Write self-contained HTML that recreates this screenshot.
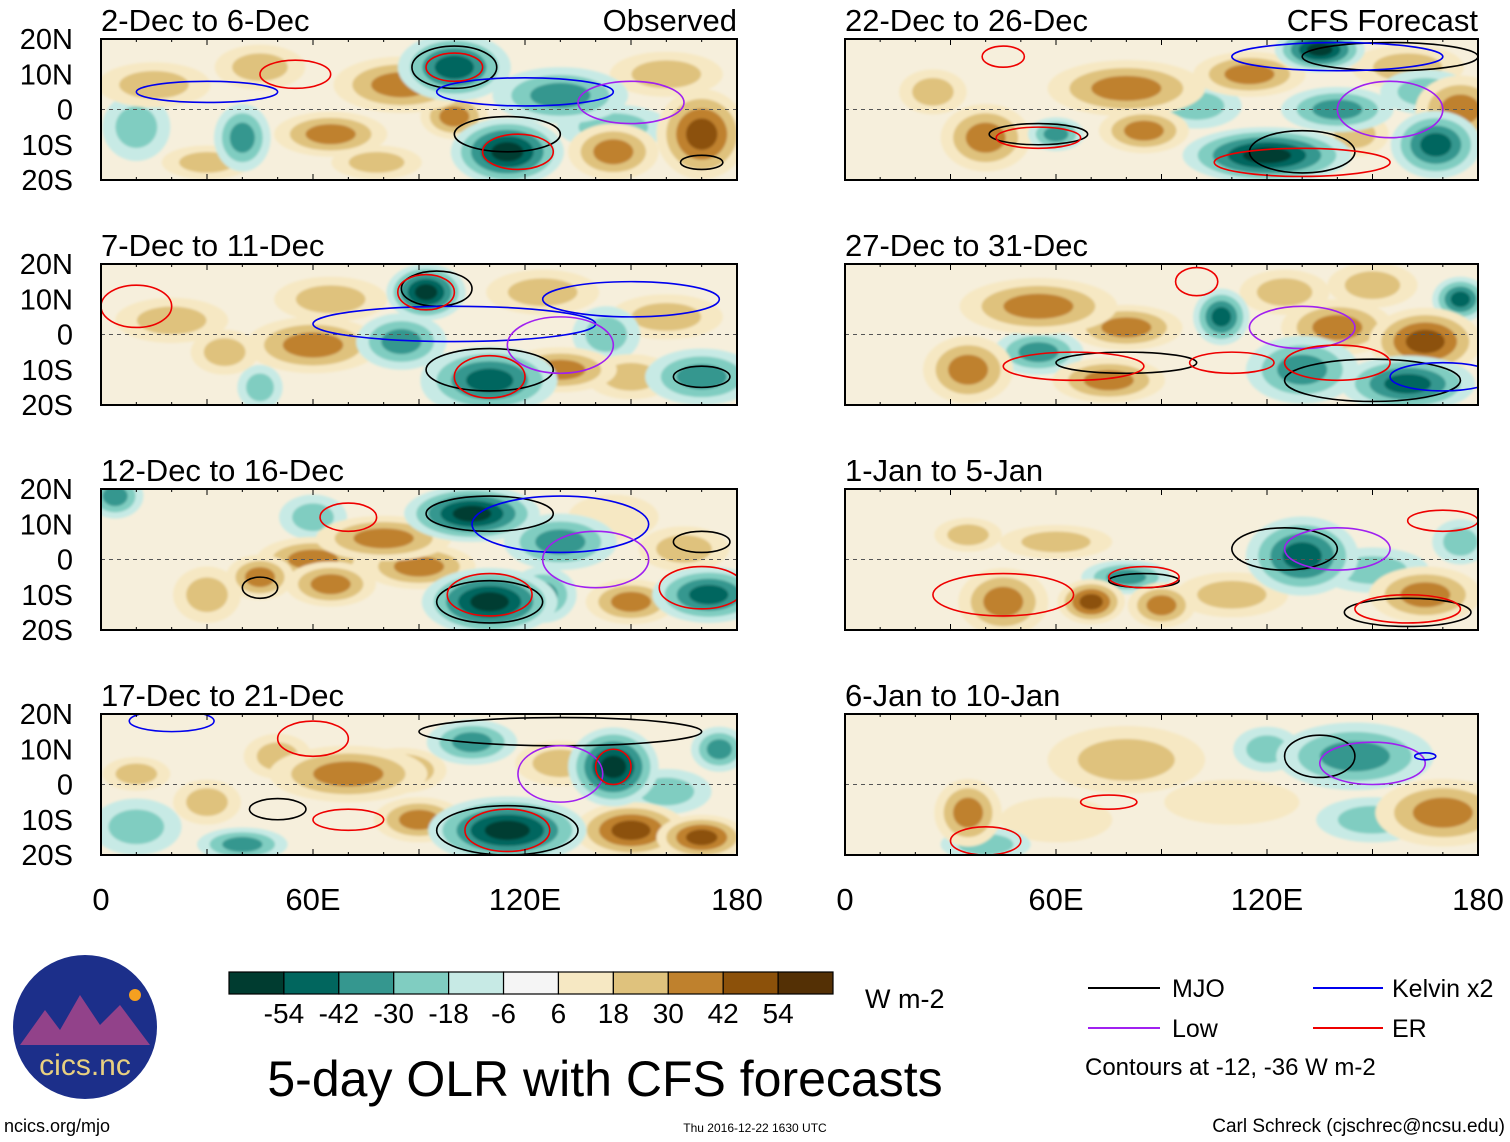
<!DOCTYPE html>
<html><head><meta charset="utf-8"><style>
body{margin:0;background:#fff;}
svg{display:block;font-family:"Liberation Sans",sans-serif;}
</style></head><body>
<svg id="fig" width="1510" height="1142" viewBox="0 0 1510 1142" xmlns="http://www.w3.org/2000/svg">
<defs><filter id="bl" x="-20%" y="-20%" width="140%" height="140%"><feGaussianBlur stdDeviation="1.4"/></filter></defs>
<g id="panels"></g>
<g id="colorbar"></g>
<text x="865" y="1008" font-size="27">W m-2</text>
<text x="605" y="1096" font-size="50" text-anchor="middle">5-day OLR with CFS forecasts</text>
<g>
<line x1="1088" y1="988" x2="1160" y2="988" stroke="#000" stroke-width="2"/><text x="1172" y="997" font-size="25">MJO</text>
<line x1="1313" y1="988" x2="1383" y2="988" stroke="#0000ee" stroke-width="2"/><text x="1392" y="997" font-size="25">Kelvin x2</text>
<line x1="1088" y1="1028" x2="1160" y2="1028" stroke="#a020f0" stroke-width="2"/><text x="1172" y="1037" font-size="25">Low</text>
<line x1="1313" y1="1028" x2="1383" y2="1028" stroke="#ee0000" stroke-width="2"/><text x="1392" y="1037" font-size="25">ER</text>
<text x="1085" y="1075" font-size="24">Contours at -12, -36 W m-2</text>
</g>
<g>
<circle cx="85" cy="1027" r="72" fill="#1c2f8a"/>
<path d="M20,1045 L45,1010 L60,1030 L80,995 L100,1025 L120,1005 L150,1045 Z" fill="#c44a8a" opacity="0.7"/>
<circle cx="135" cy="995" r="6" fill="#f5a020"/>
<text x="85" y="1075" font-size="30" fill="#e8d080" text-anchor="middle">cics.nc</text>
</g>
<text x="4" y="1132" font-size="18">ncics.org/mjo</text>
<text x="755" y="1132" font-size="12" text-anchor="middle">Thu 2016-12-22 1630 UTC</text>
<text x="1505" y="1132" font-size="19" text-anchor="end">Carl Schreck (cjschrec@ncsu.edu)</text>
</svg>
<script>
const NS="http://www.w3.org/2000/svg";
const cbLabels=["-54","-42","-30","-18","-6","6","18","30","42","54"];
const cbColors=["#003c30","#01665e","#35978f","#80cdc1","#c7eae5","#f5f5f5","#f6e8c3","#dfc27d","#bf812d","#8c510a","#543005"];
const latTicks=["20N","10N","0","10S","20S"];
const lonTicks=["0","60E","120E","180"];
const titles=["2-Dec to 6-Dec","7-Dec to 11-Dec","12-Dec to 16-Dec","17-Dec to 21-Dec","22-Dec to 26-Dec","27-Dec to 31-Dec","1-Jan to 5-Jan","6-Jan to 10-Jan"];
// blobs: [lon, lat, rxDeg, ryDeg, OLR anomaly]
const blobs0=[[100,12,10,6,-50],[115,-12,10,6,-55],[130,4,12,5,-30],[10,-5,6,6,-18],[40,-8,5,6,-30],[145,-5,10,4,-20],[65,-7,10,4,40],[85,7,12,5,35],[100,-2,6,4,30],[170,-7,8,8,45],[145,-12,8,5,35],[45,12,8,4,25],[15,7,10,4,20],[30,-15,8,3,25],[160,10,10,4,20],[78,-15,8,3,25]];
const blobs1=[[92,12,7,5,-60],[85,-2,8,5,-40],[110,-13,12,6,-50],[100,-13,6,5,-40],[170,-12,10,5,-35],[143,0,6,5,-25],[45,-15,4,4,-25],[20,4,10,4,20],[60,-3,12,5,30],[65,10,10,4,25],[130,-10,10,4,30],[150,-12,8,4,25],[125,12,10,4,20],[160,5,10,4,20],[35,-5,6,4,25]];
const blobs2=[[105,13,12,5,-55],[130,5,10,5,-40],[110,-12,12,6,-55],[172,-10,10,5,-45],[4,18,5,4,-40],[60,12,6,4,-18],[125,-10,6,5,-40],[80,6,12,4,40],[60,0,10,4,30],[90,-2,10,4,30],[65,-7,8,4,35],[45,-5,6,4,30],[30,-10,6,5,25],[150,-12,8,4,30],[165,3,8,4,20],[145,12,8,4,15]];
const blobs3=[[115,-13,14,6,-60],[145,5,8,7,-55],[105,12,8,4,-40],[175,10,5,4,-30],[160,-2,8,4,-25],[10,-12,8,5,-25],[40,-17,8,3,-30],[70,3,14,5,40],[85,4,8,4,30],[50,8,6,4,25],[150,-13,10,5,45],[170,-15,8,4,45],[30,-5,6,4,25],[90,-10,8,4,30],[130,6,8,4,20],[10,3,6,3,25]];
const blobs4=[[135,17,8,4,-55],[100,1,8,4,-25],[120,-13,15,5,-55],[168,-10,8,6,-50],[60,-7,5,3,-40],[140,0,10,4,-30],[165,5,8,4,-25],[80,6,14,5,35],[115,10,10,4,30],[40,-8,8,6,35],[85,-6,8,4,35],[175,0,8,6,40],[160,12,10,4,20],[145,-7,6,4,25],[25,5,6,4,20]];
const blobs5=[[107,5,5,5,-45],[130,-10,10,6,-40],[160,-14,12,5,-50],[175,10,5,4,-45],[55,-5,8,4,-35],[55,8,14,5,35],[80,2,10,4,30],[35,-10,8,6,40],[75,-13,10,4,35],[140,2,10,5,35],[165,-2,10,6,45],[125,12,8,4,25],[150,14,8,4,20]];
const blobs6=[[130,1,10,7,-50],[80,-5,8,3,-40],[150,-3,10,4,-25],[175,5,5,4,-20],[70,-12,6,4,45],[90,-13,6,4,40],[45,-12,8,6,30],[110,-10,10,4,25],[165,-10,10,5,35],[60,5,10,3,20],[35,7,6,3,20]];
const blobs7=[[145,8,14,6,-35],[120,10,6,4,-20],[40,-17,8,3,-25],[150,-10,10,4,-18],[80,7,14,6,20],[170,-8,12,6,35],[35,-8,6,6,30],[110,-5,12,4,15],[60,-10,10,4,15]];
// contours: [type, lon, lat, rxDeg, ryDeg]
const cont0=[["m",100,12,12,6],["m",115,-7,15,5],["m",170,-15,6,2],["k",30,5,20,3],["k",120,5,25,4],["l",150,2,15,6],["e",100,12,8,4],["e",118,-12,10,5],["e",55,10,10,4]];
const cont1=[["m",95,13,10,5],["m",110,-10,18,6],["m",170,-12,8,3],["k",100,3,40,5],["k",150,10,25,5],["l",130,-3,15,8],["e",92,12,8,5],["e",110,-12,10,6],["e",10,8,10,6]];
const cont2=[["m",110,13,18,5],["m",110,-12,15,6],["m",170,5,8,3],["k",130,10,25,8],["l",140,0,15,8],["e",70,12,8,4],["e",110,-10,12,6],["e",170,-8,12,6],["m",45,-8,5,3]];
const cont3=[["m",130,15,40,4],["m",115,-13,20,7],["m",50,-7,8,3],["k",20,18,12,3],["l",130,3,12,8],["e",60,13,10,5],["e",115,-13,12,6],["e",70,-10,10,3],["e",145,5,5,5]];
const cont4=[["m",155,15,25,4],["m",130,-12,15,6],["m",55,-7,14,3],["k",140,15,30,4],["l",155,0,15,8],["e",55,-8,12,3],["e",130,-15,25,4],["e",45,15,6,3]];
const cont5=[["m",80,-8,20,3],["m",150,-13,25,6],["k",170,-12,15,4],["l",130,2,15,6],["e",65,-9,20,4],["e",140,-8,15,5],["e",110,-8,12,3],["e",100,15,6,4]];
const cont6=[["m",125,3,15,6],["m",85,-6,10,2],["m",160,-15,18,4],["l",140,3,15,6],["e",45,-10,20,6],["e",85,-5,10,3],["e",160,-14,15,4],["e",170,11,10,3]];
const cont7=[["m",135,8,10,6],["l",150,6,15,6],["e",75,-5,8,2],["e",40,-16,10,4],["k",165,8,3,1]];
const allBlobs=[blobs0,blobs1,blobs2,blobs3,blobs4,blobs5,blobs6,blobs7];
const allCont=[cont0,cont1,cont2,cont3,cont4,cont5,cont6,cont7];
const contColor={m:"#000",k:"#0000ee",l:"#a020f0",e:"#ee0000"};
const rowTops=[39,264,489,714];
const PH=141;
const GROW=1.6;
function mk(tag,attrs,parent){const e=document.createElementNS(NS,tag);for(const k in attrs)e.setAttribute(k,attrs[k]);if(parent)parent.appendChild(e);return e;}
function colorFor(v){let i=Math.floor((v+66)/12);if(i<0)i=0;if(i>10)i=10;return cbColors[i];}
const panelsG=document.getElementById("panels");
for(let p=0;p<8;p++){
  const col=p<4?0:1,row=p%4;
  const x0=col?845:101,x1=col?1478:737,y0=rowTops[row],y1=y0+PH;
  const xS=lon=>x0+(lon/180)*(x1-x0);
  const yS=lat=>y0+((20-lat)/40)*(y1-y0);
  const g=mk("g",{},panelsG);
  
  
  mk("clipPath",{id:"cp"+p},g).appendChild(mk("rect",{x:x0,y:y0,width:x1-x0,height:PH}));
  const inner=mk("g",{"clip-path":"url(#cp"+p+")"},g);
  mk("rect",{x:x0,y:y0,width:x1-x0,height:PH,fill:"#f6efdc"},inner);
  const fg=mk("g",{filter:"url(#bl)"},inner);
  const sorted=allBlobs[p].slice().sort((a,b)=>Math.abs(a[4])-Math.abs(b[4]));
  for(const b of sorted){
    const a=Math.abs(b[4]);const n=Math.max(1,Math.floor((a-6)/12)+1);
    for(let k=0;k<n;k++){
      const lev=(6+12*k)*Math.sign(b[4])+Math.sign(b[4])*1;
      const f=GROW*(1-k/(n+0.6));
      const el=mk("ellipse",{cx:xS(b[0]),cy:yS(b[1]),rx:b[2]*f*(x1-x0)/180,ry:b[3]*f*PH/40,fill:colorFor(lev)},fg);
      
      
    }
  }
  mk("line",{x1:x0,y1:yS(0),x2:x1,y2:yS(0),stroke:"#555","stroke-dasharray":"4,4","stroke-width":1},inner);
  for(const c of allCont[p]){
    const el=mk("ellipse",{cx:xS(c[1]),cy:yS(c[2]),rx:c[3]*(x1-x0)/180,ry:c[4]*PH/40,fill:"none",stroke:contColor[c[0]],"stroke-width":1.6},inner);
    
    
  }
  mk("rect",{x:x0,y:y0,width:x1-x0,height:PH,fill:"none",stroke:"#000","stroke-width":2},g);
  for(let lon=0;lon<=180;lon+=10){const h=lon%30==0?6:3;mk("line",{x1:xS(lon),y1:y0,x2:xS(lon),y2:y0+h,stroke:"#000"},g);mk("line",{x1:xS(lon),y1:y1,x2:xS(lon),y2:y1-h,stroke:"#000"},g);}
  const t=mk("text",{x:x0,y:y0-8,"font-size":31},g);t.textContent=titles[p];
  
  
  if(row==0){const s=mk("text",{x:x1,y:y0-8,"font-size":31,"text-anchor":"end"},g);s.textContent=col?"CFS Forecast":"Observed";
    
    }
  if(col==0){latTicks.forEach((l,i)=>{const tt=mk("text",{x:73,y:y0+i*PH/4+10,"font-size":29,"text-anchor":"end"},g);tt.textContent=l;
    
    });}
  if(row==3){lonTicks.forEach((l,i)=>{const tt=mk("text",{x:x0+i*(x1-x0)/3,y:910,"font-size":31,"text-anchor":"middle"},g);tt.textContent=l;
    
    });}
}
const cb=document.getElementById("colorbar");
const cbx=229,cbw=604/11;
cbColors.forEach((c,i)=>{const r=mk("rect",{x:cbx+i*cbw,y:972,width:cbw,height:22,fill:c,stroke:"#000","stroke-width":1.2},cb);
  
  });
cbLabels.forEach((l,i)=>{const t=mk("text",{x:cbx+(i+1)*cbw,y:1023,"font-size":28,"text-anchor":"middle"},cb);t.textContent=l;
  
  });
</script>
</body></html>
